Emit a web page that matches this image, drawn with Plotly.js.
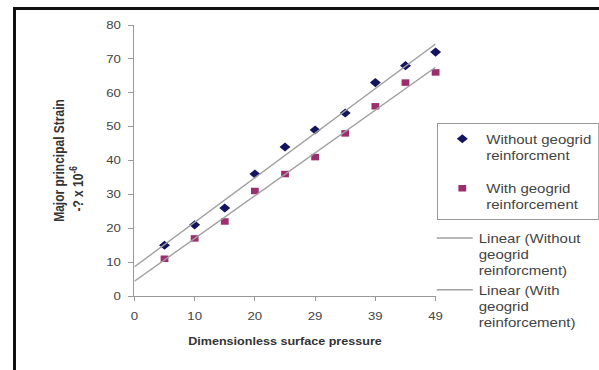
<!DOCTYPE html>
<html>
<head>
<meta charset="utf-8">
<script src="https://cdn.plot.ly/plotly-3.0.1.min.js"></script>
<style>
  html, body { margin: 0; padding: 0; background: #fff; }
  #wrap { position: relative; width: 599px; height: 370px; overflow: hidden; background: #fff; }
  #chart { position: absolute; left: 0; top: 0; width: 499px; height: 370px;
           transform: scaleX(1.2); transform-origin: 0 0; }
  #frame { position: absolute; left: 13px; top: 7px; width: 620px; height: 400px;
           border-left: 3px solid #111; border-top: 3px solid #111; pointer-events: none; }
</style>
</head>
<body>
<div id="wrap">
  <div id="chart"></div>
  <div id="frame"></div>
</div>
<script>
// Data
var xValues = [4.9, 9.8, 14.7, 19.6, 24.5, 29.4, 34.3, 39.2, 44.1, 49];
var withoutGeogrid = [15, 21, 26, 36, 44, 49, 54, 63, 68, 72];
var withGeogrid = [11, 17, 22, 31, 36, 41, 48, 56, 63, 66];
var xTickVals = [0, 9.8, 19.6, 29.4, 39.2, 49];
var xTickText = ["0", "10", "20", "29", "39", "49"];

function linFit(xs, ys) {
  var n = xs.length, sx = 0, sy = 0, sxx = 0, sxy = 0;
  for (var i = 0; i < n; i++) { sx += xs[i]; sy += ys[i]; sxx += xs[i]*xs[i]; sxy += xs[i]*ys[i]; }
  var b = (n*sxy - sx*sy) / (n*sxx - sx*sx);
  var a = (sy - b*sx) / n;
  return function (x) { return a + b*x; };
}
var fitA = linFit(xValues, withoutGeogrid);
var fitB = linFit(xValues, withGeogrid);
var lineX = [0, 49];

var FONT = "Liberation Sans, Arial, sans-serif";

var traces = [
  { x: xValues, y: withoutGeogrid, type: 'scatter', mode: 'markers',
    name: 'Without geogrid<br>reinforcment', legend: 'legend', legendgroup: 'a',
    marker: { symbol: 'diamond', size: 7, color: '#14145e' }, cliponaxis: false },
  { x: xValues, y: withGeogrid, type: 'scatter', mode: 'markers',
    name: 'With geogrid<br>reinforcement', legend: 'legend', legendgroup: 'b',
    marker: { symbol: 'square', size: 6.5, color: '#9b2f6e' }, cliponaxis: false },
  { x: lineX, y: lineX.map(fitA), type: 'scatter', mode: 'lines',
    name: 'Linear (Without<br>geogrid<br>reinforcment)', legend: 'legend2',
    line: { color: '#a0a0a0', width: 1.3 }, cliponaxis: false },
  { x: lineX, y: lineX.map(fitB), type: 'scatter', mode: 'lines',
    name: 'Linear (With<br>geogrid<br>reinforcement)', legend: 'legend2',
    line: { color: '#a0a0a0', width: 1.3 }, cliponaxis: false }
];

var layout = {
  width: 499, height: 370,
  margin: { l: 112, r: 136, t: 25, b: 74, autoexpand: false },
  paper_bgcolor: 'rgba(0,0,0,0)', plot_bgcolor: '#fff',
  font: { family: FONT, color: '#444', size: 11 },
  showlegend: true,
  xaxis: {
    range: [0, 49], tickvals: xTickVals, ticktext: xTickText,
    showgrid: false, zeroline: false, showline: true, linecolor: '#999', linewidth: 1,
    ticks: 'outside', ticklen: 4, tickcolor: '#999', ticklabelstandoff: 6,
    tickfont: { size: 11, color: '#444' },
    title: { text: '<b>Dimensionless surface pressure</b>', font: { size: 10.5, color: '#333' }, standoff: 16 }
  },
  yaxis: {
    range: [0, 80], dtick: 10,
    showgrid: false, zeroline: false, showline: true, linecolor: '#999', linewidth: 1,
    ticks: 'outside', ticklen: 4, tickcolor: '#999', ticklabelstandoff: 4,
    tickfont: { size: 11, color: '#444' },
    title: { text: '<b>Major principal Strain<br>-? x 10<sup>-6</sup>' + '&nbsp;'.repeat(17) + '</b>',
             font: { size: 12, color: '#333' }, standoff: 16 }
  },
  legend: {
    x: 1.005, xanchor: 'left', y: 0.638, yanchor: 'top',
    bordercolor: '#999', borderwidth: 1, bgcolor: '#fff',
    font: { size: 12.5, color: '#444', family: FONT },
    traceorder: 'grouped', tracegroupgap: 14, valign: 'top'
  },
  legend2: {
    x: 0.984, xanchor: 'left', y: 0.268, yanchor: 'top',
    borderwidth: 0, bgcolor: 'rgba(0,0,0,0)',
    font: { size: 12.5, color: '#444', family: FONT },
    valign: 'top', tracegroupgap: 0
  }
};

Plotly.newPlot('chart', traces, layout, { displayModeBar: false, staticPlot: true });
</script>
</body>
</html>
